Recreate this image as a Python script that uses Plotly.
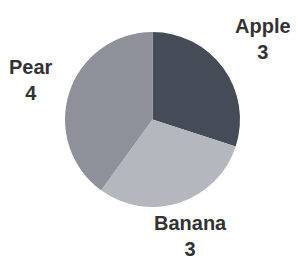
import math
import plotly.graph_objects as go

labels = ["Apple", "Banana", "Pear"]
values = [3, 3, 4]
colors = ["#454c57", "#b5b7bf", "#8e9199"]

OFF = 8  # default page body margin
W, H = 298 - OFF, 261 - OFF
# pie geometry in page pixels
cx, cy, r = 152.5 - OFF, 119.5 - OFF, 87.5
dom_x = [(cx - r) / W, (cx + r) / W]
dom_y = [1 - (cy + r) / H, 1 - (cy - r) / H]

fig = go.Figure(go.Pie(
    labels=labels, values=values, sort=False, direction="clockwise", rotation=0,
    marker=dict(colors=colors, line=dict(width=0)),
    textinfo="none", hoverinfo="label+value", showlegend=False,
    domain=dict(x=dom_x, y=dom_y),
))

# layout: distance of each label block centre from the pie centre (px)
label_dist = {"Apple": 137, "Banana": 123, "Pear": 128}

total = sum(values)
cum = 0
for lab, v in zip(labels, values):
    mid = (cum + v / 2) / total * 2 * math.pi
    cum += v
    dx, dy_up = math.sin(mid), math.cos(mid)
    d = label_dist[lab]
    px = cx + dx * d
    py = cy - dy_up * d
    fig.add_annotation(
        x=px / W, y=1 - py / H, xref="paper", yref="paper",
        text=f"<b>{lab}</b><br><b>{v}</b>", showarrow=False,
        xanchor="center", yanchor="middle", align="center",
        font=dict(family="Liberation Sans, Arial, sans-serif", size=20, color="#333333"),
    )

fig.update_layout(
    width=W, height=H, margin=dict(l=0, r=0, t=0, b=0),
    paper_bgcolor="white", plot_bgcolor="white",
)
fig.write_html("out.html")
